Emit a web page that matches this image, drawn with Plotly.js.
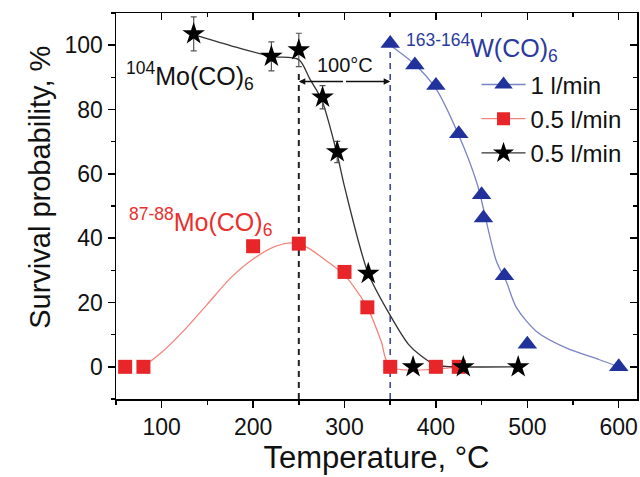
<!DOCTYPE html>
<html>
<head>
<meta charset="utf-8">
<script src="https://cdn.plot.ly/plotly-3.0.1.min.js"></script>
<style>html,body{margin:0;padding:0;background:#fff;}#chart{width:640px;height:477px;}</style>
</head>
<body>
<div id="chart"></div>
<script>
// ---- data ----
// black stars: 104Mo(CO)6, 0.5 l/min
var starX = [135, 220, 250, 276, 292, 326, 375, 430, 490];
var starY = [103.5, 96.5, 98.5, 83.8, 66.8, 29, 0, 0, 0];
var starErr = [5.3, 4.5, 5.2, 3.6, 3.3, 0, 0, 0, 0];
// red squares: 87-88Mo(CO)6, 0.5 l/min
var squareX = [60, 80, 200, 250, 300, 325, 350, 400, 425];
var squareY = [0, 0, 37.5, 38.3, 29.5, 18.5, 0, 0, 0];
// blue triangles: 163-164W(CO)6, 1 l/min
var triX = [350, 377, 400, 425, 450, 452, 475, 500, 600];
var triY = [100.5, 93.8, 87.5, 72.5, 53.5, 46.3, 28.3, 7, 0];

// fitted curves
var fitBlackX = [135, 180, 220, 250, 262, 275, 292, 300, 326, 350, 370, 382, 400, 430, 490];
var fitBlackY = [103.3, 99.5, 96.5, 95.5, 89.5, 83, 66, 56, 29, 16, 7, 3.8, 0.5, 0, 0];
var fitRedX = [80, 100, 125, 150, 175, 200, 225, 245, 260, 280, 300, 325, 340, 350, 425];
var fitRedY = [0, 4.5, 11.5, 19.5, 27.5, 33.5, 37.5, 38.5, 37, 33, 28.5, 18.5, 8, 0, 0];
var fitBlueX = [350, 377, 400, 425, 445, 466, 477, 488, 510, 543, 579, 600];
var fitBlueY = [100, 94, 86.5, 72, 57, 33, 26.5, 18.5, 11, 5.8, 2.2, 0];

var legendNames = ["1 l/min", "0.5 l/min", "0.5 l/min"];
var xTicks = [100, 200, 300, 400, 500, 600];
var yTicks = [0, 20, 40, 60, 80, 100];
var markerTemps = [250, 350];   // dashed reference lines
var arrowY = 88.7;

var FONT = "Liberation Sans, Arial, sans-serif";
var BLUE = "#22329c", BLUE_L = "#7a84c4";
var RED = "#e8262a", RED_L = "#f2857c";
var BLACK = "#000000", BLACK_L = "#333333";

var traces = [
  // curves
  {x: fitBlueX, y: fitBlueY, mode: "lines", line: {color: BLUE_L, width: 1.3, shape: "spline", smoothing: 0.8}, showlegend: false, hoverinfo: "skip"},
  {x: fitRedX, y: fitRedY, mode: "lines", line: {color: RED_L, width: 1.3, shape: "spline", smoothing: 0.8}, showlegend: false, hoverinfo: "skip"},
  {x: fitBlackX, y: fitBlackY, mode: "lines", line: {color: BLACK_L, width: 1.3, shape: "spline", smoothing: 0.8}, showlegend: false, hoverinfo: "skip"},
  // markers
  {x: triX, y: triY, mode: "markers", marker: {symbol: "triangle-up", size: 17, color: BLUE}, showlegend: false},
  {x: squareX, y: squareY, mode: "markers", marker: {symbol: "square", size: 14, color: RED}, showlegend: false},
  {x: starX, y: starY, mode: "markers", marker: {symbol: "star", size: 17, color: BLACK},
   error_y: {type: "data", array: starErr, visible: true, color: "#555", thickness: 1.2, width: 3}, showlegend: false},
  // legend entries
  {x: [null], y: [null], name: legendNames[0], mode: "lines+markers", line: {color: BLUE_L, width: 1.3}, marker: {symbol: "triangle-up", size: 17, color: BLUE}},
  {x: [null], y: [null], name: legendNames[1], mode: "lines+markers", line: {color: RED_L, width: 1.3}, marker: {symbol: "square", size: 13, color: RED}},
  {x: [null], y: [null], name: legendNames[2], mode: "lines+markers", line: {color: BLACK_L, width: 1.3}, marker: {symbol: "star", size: 16, color: BLACK}},
  // dummy for mirrored axes
  {x: [null], y: [null], xaxis: "x2", yaxis: "y2", mode: "markers", showlegend: false, hoverinfo: "skip"}
];

var shapes = [
  {type: "line", xref: "x", yref: "y", x0: markerTemps[0], x1: markerTemps[0], y0: -10, y1: 92, layer: "below",
   line: {color: "#222", width: 2, dash: "6px,5px"}},
  {type: "line", xref: "x", yref: "y", x0: markerTemps[1], x1: markerTemps[1], y0: -10, y1: 100, layer: "below",
   line: {color: "#3d4a9a", width: 1.6, dash: "6px,5px"}}
];

var mid = (markerTemps[0] + markerTemps[1]) / 2;
var annotations = [
  {x: markerTemps[0], y: arrowY, ax: mid, ay: arrowY, xref: "x", yref: "y", axref: "x", ayref: "y", text: "",
   showarrow: true, arrowhead: 2, arrowsize: 1, arrowwidth: 1.3, arrowcolor: "#111"},
  {x: markerTemps[1], y: arrowY, ax: mid, ay: arrowY, xref: "x", yref: "y", axref: "x", ayref: "y", text: "",
   showarrow: true, arrowhead: 2, arrowsize: 1, arrowwidth: 1.3, arrowcolor: "#111"},
  {x: mid, y: 93.8, xref: "x", yref: "y", text: "100°C", showarrow: false, font: {family: FONT, size: 20, color: "#111"}},
  {x: 131, y: 90.3, xref: "x", yref: "y", text: "<sup>104</sup>Mo(CO)<sub>6</sub>", showarrow: false, font: {family: FONT, size: 25, color: "#111"}},
  {x: 142, y: 45, xref: "x", yref: "y", text: "<sup>87-88</sup>Mo(CO)<sub>6</sub>", showarrow: false, font: {family: FONT, size: 25, color: "#e8302e"}},
  {x: 450, y: 99, xref: "x", yref: "y", text: "<sup>163-164</sup>W(CO)<sub>6</sub>", showarrow: false, font: {family: FONT, size: 25, color: "#2a3aa0"}},
  // y-axis title (placed as in the reference, slightly above the plot centre)
  {x: -0.181, y: 0.549, xref: "paper", yref: "paper", text: "Survival probability, %", textangle: -90, showarrow: false,
   font: {family: FONT, size: 29, color: "#111"}}
];

var axisCommon = {showgrid: false, zeroline: false, showline: true, linecolor: "#000", linewidth: 1.5,
  tickcolor: "#000", tickwidth: 1.5};

var layout = {
  width: 640, height: 477,
  margin: {l: 116, r: 3, t: 13, b: 78, pad: 0},
  paper_bgcolor: "#fff", plot_bgcolor: "#fff",
  font: {family: FONT, color: "#111"},
  showlegend: true,
  legend: {x: 0.692, y: 0.872, xanchor: "left", yanchor: "top", bgcolor: "rgba(0,0,0,0)",
    font: {family: FONT, size: 24, color: "#111"}, tracegroupgap: 0, itemwidth: 44},
  xaxis: Object.assign({}, axisCommon, {
    range: [50, 620], tickmode: "array", tickvals: xTicks, ticks: "outside", ticklen: 7,
    tickfont: {family: FONT, size: 23, color: "#111"},
    minor: {tickmode: "linear", tick0: 50, dtick: 50, ticks: "outside", ticklen: 4, tickcolor: "#000", tickwidth: 1.5},
    title: {text: "Temperature, °C", font: {family: FONT, size: 31, color: "#111"}, standoff: 7}
  }),
  yaxis: Object.assign({}, axisCommon, {
    range: [-10, 110], tickmode: "array", tickvals: yTicks, ticks: "outside", ticklen: 7,
    tickfont: {family: FONT, size: 23, color: "#111"},
    minor: {tickmode: "linear", tick0: -10, dtick: 10, ticks: "outside", ticklen: 4, tickcolor: "#000", tickwidth: 1.5}
  }),
  xaxis2: Object.assign({}, axisCommon, {
    overlaying: "x", side: "top", anchor: "y2", range: [50, 620], tickmode: "array", tickvals: xTicks,
    ticks: "inside", ticklen: 7, showticklabels: false,
    minor: {tickmode: "linear", tick0: 50, dtick: 50, ticks: "inside", ticklen: 4, tickcolor: "#000", tickwidth: 1.5}
  }),
  yaxis2: Object.assign({}, axisCommon, {
    overlaying: "y", side: "right", anchor: "x2", range: [-10, 110], tickmode: "array", tickvals: yTicks,
    ticks: "inside", ticklen: 7, showticklabels: false,
    minor: {tickmode: "linear", tick0: -10, dtick: 10, ticks: "inside", ticklen: 4, tickcolor: "#000", tickwidth: 1.5}
  }),
  shapes: shapes,
  annotations: annotations
};

Plotly.newPlot("chart", traces, layout, {displayModeBar: false, staticPlot: true});
</script>
</body>
</html>
